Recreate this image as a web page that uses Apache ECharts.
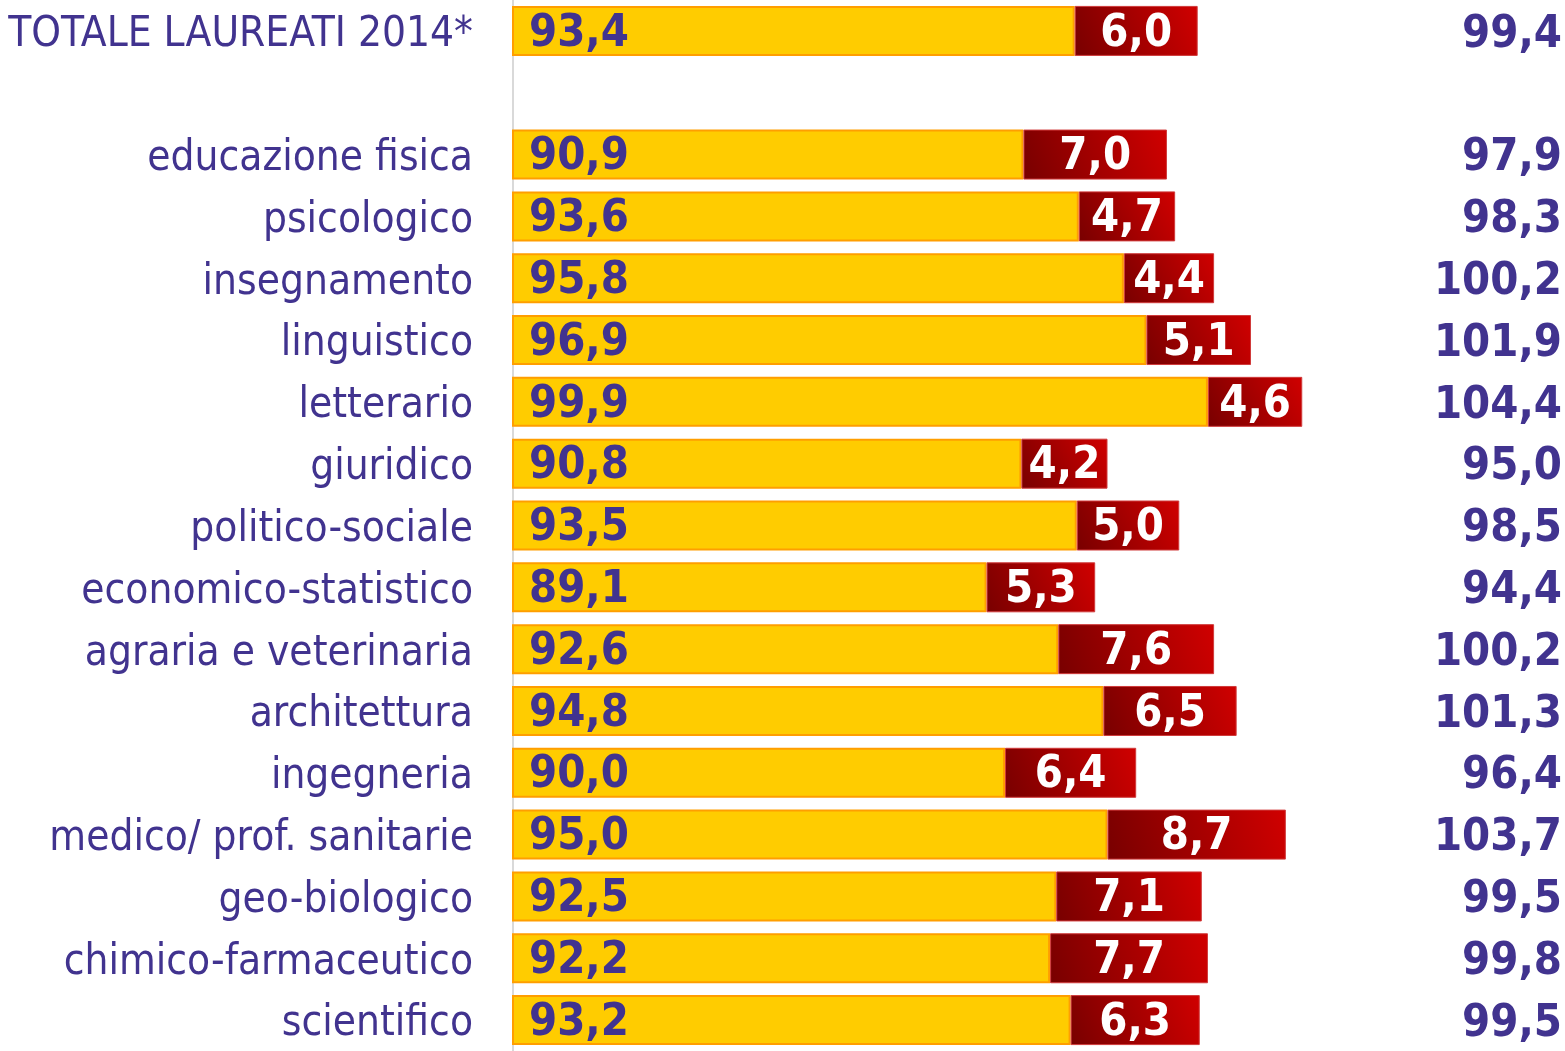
<!DOCTYPE html>
<html>
<head>
    <meta charset="UTF-8">
    <title>Laureati</title>
    <style>
        html, body {
            height: 100%;
            width: 100%;
            margin: 0;
            padding: 0;
            background: #fff;
        }
        #chart {
            width: 1565px;
            height: 1051px;
        }
    </style>
    <script src="https://cdn.jsdelivr.net/npm/echarts@6/dist/echarts.min.js"></script>
</head>
<body>
<div id="chart"></div>
<script type="text/javascript">
    // categorie (riga vuota dopo il totale)
    var categories = ['TOTALE LAUREATI 2014*', '', 'educazione fisica', 'psicologico', 'insegnamento',
        'linguistico', 'letterario', 'giuridico', 'politico-sociale', 'economico-statistico',
        'agraria e veterinaria', 'architettura', 'ingegneria', 'medico/ prof. sanitarie',
        'geo-biologico', 'chimico-farmaceutico', 'scientifico'];
    var yellowValues = [93.4, null, 90.9, 93.6, 95.8, 96.9, 99.9, 90.8, 93.5, 89.1, 92.6, 94.8, 90.0, 95.0, 92.5, 92.2, 93.2];
    var redValues = [6.0, null, 7.0, 4.7, 4.4, 5.1, 4.6, 4.2, 5.0, 5.3, 7.6, 6.5, 6.4, 8.7, 7.1, 7.7, 6.3];
    var totalLabels = ['99,4', '', '97,9', '98,3', '100,2', '101,9', '104,4', '95,0', '98,5', '94,4',
        '100,2', '101,3', '96,4', '103,7', '99,5', '99,8', '99,5'];

    var purple = '#41338f';
    var font = '"DejaVu Sans Condensed", "DejaVu Sans", sans-serif';

    function fmt(v) {
        return v.toFixed(1).replace('.', ',');
    }

    var myChart = echarts.init(document.getElementById('chart'));
    var option = {
        animation: false,
        grid: {
            left: 513,
            right: 27,
            top: 0,
            height: 1062.5
        },
        xAxis: {
            type: 'value',
            min: 66,
            max: 116,
            show: false
        },
        yAxis: [{
            type: 'category',
            data: categories,
            inverse: true,
            axisLine: {lineStyle: {color: '#d9d9d9', width: 2}},
            axisTick: {show: false},
            axisLabel: {
                margin: 40,
                formatter: function (v) { return v ? '{a|' + v + '}' : ''; },
                rich: {
                    a: {
                        fontSize: 42,
                        fontFamily: font,
                        color: purple,
                        padding: [9, 0, 0, 0]
                    }
                }
            }
        }, {
            type: 'category',
            data: totalLabels,
            inverse: true,
            position: 'right',
            axisLine: {show: false},
            axisTick: {show: false},
            axisLabel: {
                margin: 24,
                align: 'right',
                formatter: function (v) { return v ? '{a|' + v + '}' : ''; },
                rich: {
                    a: {
                        fontSize: 45,
                        fontWeight: 'bold',
                        fontFamily: font,
                        color: purple,
                        padding: [8, 0, 0, 0]
                    }
                }
            }
        }],
        series: [{
            type: 'bar',
            stack: 'tot',
            data: yellowValues,
            barWidth: 50,
            itemStyle: {
                color: '#ffcc00',
                borderColor: '#ff9e00',
                borderWidth: 2
            },
            label: {
                show: true,
                position: 'insideLeft',
                distance: 17,
                offset: [0, 3],
                fontSize: 45,
                fontWeight: 'bold',
                fontFamily: font,
                color: purple,
                formatter: function (p) { return fmt(p.value); }
            }
        }, {
            type: 'bar',
            stack: 'tot',
            data: redValues,
            barWidth: 50,
            itemStyle: {
                color: new echarts.graphic.LinearGradient(0, 1, 1, 0, [
                    {offset: 0, color: '#780000'},
                    {offset: 1, color: '#d00000'}
                ]),
                borderColor: '#d03a3a',
                borderWidth: 1
            },
            label: {
                show: true,
                position: 'inside',
                offset: [0, 3],
                fontSize: 45,
                fontWeight: 'bold',
                fontFamily: font,
                color: '#fff',
                formatter: function (p) { return fmt(p.value); }
            }
        }]
    };
    myChart.setOption(option);
</script>
</body>
</html>
